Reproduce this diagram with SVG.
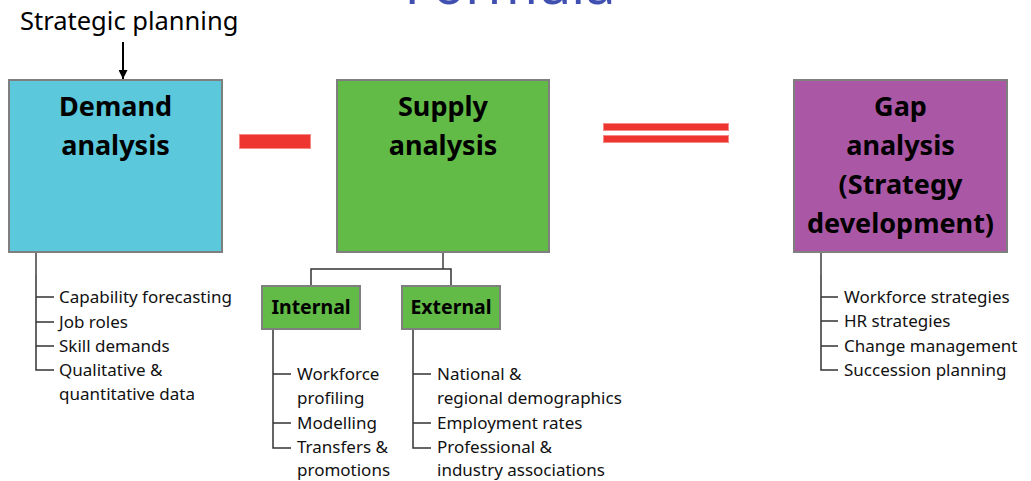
<svg xmlns="http://www.w3.org/2000/svg" width="1031" height="481" viewBox="0 0 1031 481">
  <style>
    .box { stroke: #7f7f7f; stroke-width: 2; }
    .demand { fill: #5bc8dc; }
    .supply { fill: #62bb47; }
    .gap { fill: #aa57a5; }
    .title { font-family: "Noto Sans", "Open Sans", sans-serif; font-weight: bold; font-size: 27px; fill: #000; text-anchor: middle; }
    .sub { font-family: "Noto Sans", "Open Sans", sans-serif; font-weight: bold; font-size: 19.5px; fill: #000; text-anchor: middle; }
    .item { font-family: "Noto Sans", "Open Sans", sans-serif; font-size: 17px; fill: #111; }
    .line { fill: none; stroke: #333; stroke-width: 1.5; }
    .stem { fill: none; stroke: #6f6f6f; stroke-width: 2; }
    .op { fill: #ee3530; stroke: #f58a86; stroke-width: 1; }
  </style>
  <defs>
    <marker id="arrowhead" viewBox="0 0 10 10" refX="10" refY="5" markerWidth="9" markerHeight="9" markerUnits="userSpaceOnUse" orient="auto">
      <path d="M0,0 L10,5 L0,10 Z" fill="#000"/>
    </marker>
  </defs>

  <rect width="1031" height="481" fill="#ffffff"/>

  <!-- page heading, mostly above the visible area -->
  <text x="510" y="4" font-family="Noto Sans, Open Sans, sans-serif" font-size="54" fill="#4050b0" text-anchor="middle">Formula</text>

  <!-- input label -->
  <text x="20" y="30" font-family="Noto Sans, Open Sans, sans-serif" font-size="25.5" fill="#000">Strategic planning</text>

  <!-- connectors -->
  <g id="connectors">
    <line x1="123" y1="42" x2="123" y2="79" stroke="#000" stroke-width="2" marker-end="url(#arrowhead)"/>

    <!-- demand bullets -->
    <path class="stem" d="M36,252 V275"/>
    <path class="line" d="M36,275 V370 H54 M36,297 H54 M36,322 H54 M36,346 H54"/>

    <!-- supply split -->
    <path class="stem" d="M443,252 V269"/>
    <path class="line" d="M311,286 V269 H451 V286"/>

    <!-- internal bullets -->
    <path class="line" d="M273,329 V448 H291 M273,374 H291 M273,423 H291"/>
    <!-- external bullets -->
    <path class="line" d="M413,329 V448 H431 M413,374 H431 M413,423 H431"/>

    <!-- gap bullets -->
    <path class="stem" d="M821,252 V275"/>
    <path class="line" d="M821,275 V370 H838 M821,297 H838 M821,321 H838 M821,346 H838"/>
  </g>

  <!-- operators -->
  <g id="minus">
    <rect class="op" x="239.5" y="134.5" width="71" height="14"/>
  </g>
  <g id="equals">
    <rect class="op" x="603.5" y="123.5" width="125" height="7"/>
    <rect class="op" x="603.5" y="135.5" width="125" height="7"/>
  </g>

  <g id="demand">
    <rect class="box demand" x="9" y="80" width="213" height="172"/>
    <text class="title" x="115.5" y="116">Demand</text>
    <text class="title" x="115.5" y="155">analysis</text>
    <text class="item" x="59" y="303">Capability forecasting</text>
    <text class="item" x="59" y="328">Job roles</text>
    <text class="item" x="59" y="352">Skill demands</text>
    <text class="item" x="59" y="376">Qualitative &amp;</text>
    <text class="item" x="59" y="400">quantitative data</text>
  </g>

  <g id="supply">
    <rect class="box supply" x="337" y="80" width="212" height="172"/>
    <text class="title" x="443" y="116">Supply</text>
    <text class="title" x="443" y="155">analysis</text>
  </g>

  <g id="internal">
    <rect class="box supply" x="262" y="286" width="98" height="43"/>
    <text class="sub" x="311" y="314">Internal</text>
    <text class="item" x="297" y="380">Workforce</text>
    <text class="item" x="297" y="404">profiling</text>
    <text class="item" x="297" y="429">Modelling</text>
    <text class="item" x="297" y="453">Transfers &amp;</text>
    <text class="item" x="297" y="476">promotions</text>
  </g>

  <g id="external">
    <rect class="box supply" x="402" y="286" width="98" height="43"/>
    <text class="sub" x="451" y="314">External</text>
    <text class="item" x="437" y="380">National &amp;</text>
    <text class="item" x="437" y="404">regional demographics</text>
    <text class="item" x="437" y="429">Employment rates</text>
    <text class="item" x="437" y="453">Professional &amp;</text>
    <text class="item" x="437" y="476">industry associations</text>
  </g>

  <g id="gap">
    <rect class="box gap" x="794" y="80" width="213" height="172"/>
    <text class="title" x="900.5" y="116">Gap</text>
    <text class="title" x="900.5" y="155">analysis</text>
    <text class="title" x="900.5" y="194">(Strategy</text>
    <text class="title" x="900.5" y="233">development)</text>
    <text class="item" x="844" y="303">Workforce strategies</text>
    <text class="item" x="844" y="327">HR strategies</text>
    <text class="item" x="844" y="352">Change management</text>
    <text class="item" x="844" y="376">Succession planning</text>
  </g>
</svg>
